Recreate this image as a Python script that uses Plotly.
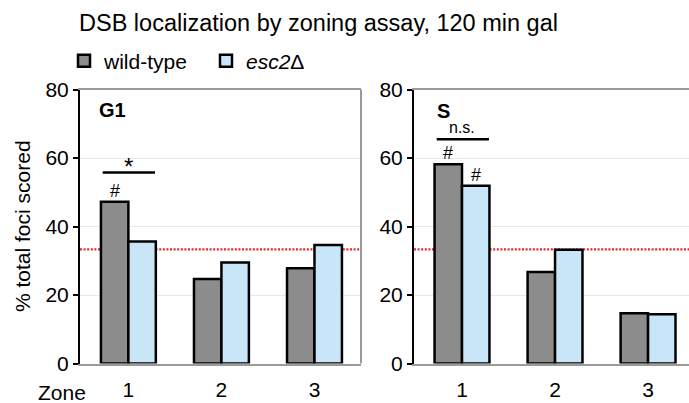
import plotly.graph_objects as go

# ---------------- data ----------------
zones = [1, 2, 3]
zone_labels = ["1", "2", "3"]
g1_wt = [47.2, 24.7, 27.8]
g1_esc2 = [35.6, 29.5, 34.6]
s_wt = [58.2, 26.7, 14.7]
s_esc2 = [51.9, 33.2, 14.4]
expected_pct = 33.3
y_ticks = [0, 20, 40, 60, 80]

series_names = ["wild-type", "<i>esc2</i>Δ"]
series_colors = ["#8c8c8c", "#c8e6f7"]

FONT = "Arial, Liberation Sans, sans-serif"
W, H = 689, 403
BARGAP = 0.41
bar_w = (1 - BARGAP) / 2

fig = go.Figure()

panels = [("x", "y", g1_wt, g1_esc2, True), ("x2", "y2", s_wt, s_esc2, False)]
for xa, ya, wt, esc, show in panels:
    for name, col, vals in zip(series_names, series_colors, [wt, esc]):
        fig.add_trace(go.Bar(
            x=zones, y=vals, name=name, xaxis=xa, yaxis=ya,
            marker=dict(color=col, line=dict(color="black", width=2.5)),
            showlegend=show, legendgroup=name,
        ))

# geometry (pixels -> paper)
y_bot_px, y_top_px = 363.5, 89.5
ydom = [1 - y_bot_px / H, 1 - y_top_px / H]
x1dom = [80 / W, 361 / W]
x2dom = [414 / W, 1.0]

axis_common_x = dict(
    tickmode="array", tickvals=zones, ticktext=zone_labels,
    showline=True, linecolor="#9a9a9a", linewidth=2, mirror=True,
    ticks="", showgrid=False, zeroline=False,
    tickfont=dict(family=FONT, size=21, color="black"),
    ticklabelstandoff=6,
)
axis_common_y = dict(
    range=[0, 80], tickvals=y_ticks, showline=True, linecolor="black",
    linewidth=2, ticks="outside", ticklen=5, tickwidth=2, tickcolor="black",
    showgrid=True, gridcolor="#e8e8e8", gridwidth=1, zeroline=False,
    tickfont=dict(family=FONT, size=21, color="black"),
)

fig.update_layout(
    width=W, height=H,
    margin=dict(l=0, r=0, t=0, b=0, autoexpand=False),
    paper_bgcolor="white", plot_bgcolor="white",
    barmode="group", bargap=BARGAP, bargroupgap=0,
    xaxis=dict(axis_common_x, domain=x1dom, range=[0.48, 3.5], anchor="y"),
    yaxis=dict(axis_common_y, domain=ydom, anchor="x"),
    xaxis2=dict(axis_common_x, domain=x2dom, range=[0.484, 3.44], anchor="y2"),
    yaxis2=dict(axis_common_y, domain=ydom, anchor="x2"),
    showlegend=True,
    legend=dict(orientation="h", x=64 / W, y=1 - 61 / H, xanchor="left", yanchor="middle",
                font=dict(family=FONT, size=21, color="black"),
                entrywidth=97, entrywidthmode="pixels", bgcolor="rgba(0,0,0,0)",
                itemclick=False),
    font=dict(family=FONT, color="black"),
)

shapes = []
for xa, ya in [("x", "y"), ("x2", "y2")]:
    shapes.append(dict(type="line", xref=f"{xa} domain", yref=ya, x0=0, x1=1,
                       y0=expected_pct, y1=expected_pct, layer="below",
                       line=dict(color="#e8262a", width=2.2, dash="2px,1.6px")))
# right frame of the first panel
shapes.append(dict(type="line", xref="x domain", yref="y domain", x0=1, x1=1, y0=0, y1=1,
                   line=dict(color="#9a9a9a", width=2)))
# significance brackets
shapes.append(dict(type="line", xref="x", yref="y", x0=0.724, x1=1.286, y0=55.8, y1=55.8,
                   line=dict(color="black", width=2.5)))
shapes.append(dict(type="line", xref="x2", yref="y2", x0=0.728, x1=1.29, y0=65.5, y1=65.5,
                   line=dict(color="black", width=2.5)))
fig.update_layout(shapes=shapes)

ann = []
ann.append(dict(text="DSB localization by zoning assay, 120 min gal", xref="paper", yref="paper",
                x=77 / W, y=1 - 23 / H, xanchor="left", yanchor="middle", showarrow=False,
                font=dict(family=FONT, size=23.5, color="black")))
ann.append(dict(text="% total foci scored", xref="paper", yref="paper", textangle=-90,
                x=22.5 / W, y=1 - 226.5 / H, xanchor="center", yanchor="middle", showarrow=False,
                font=dict(family=FONT, size=21, color="black")))
ann.append(dict(text="Zone", xref="paper", yref="paper", x=62 / W, y=1 - 392 / H,
                xanchor="center", yanchor="middle", showarrow=False,
                font=dict(family=FONT, size=21, color="black")))
ann.append(dict(text="<b>G1</b>", xref="x domain", yref="y domain", x=0.06, y=0.925,
                xanchor="left", yanchor="middle", showarrow=False,
                font=dict(family=FONT, size=20, color="black")))
ann.append(dict(text="<b>S</b>", xref="x2 domain", yref="y2 domain", x=0.076, y=0.921,
                xanchor="left", yanchor="middle", showarrow=False,
                font=dict(family=FONT, size=20, color="black")))
ann.append(dict(text="*", xref="x", yref="y", x=1.0, y=57.5, xanchor="center", yanchor="middle",
                showarrow=False, font=dict(family=FONT, size=24, color="black")))
ann.append(dict(text="n.s.", xref="x2", yref="y2", x=1.0, y=68.8, xanchor="center", yanchor="middle",
                showarrow=False, font=dict(family=FONT, size=16, color="black")))
# '#' marks above selected bars
hash_marks = [("x", "y", zones[0] - bar_w / 2, g1_wt[0]),
              ("x2", "y2", zones[0] - bar_w / 2, s_wt[0]),
              ("x2", "y2", zones[0] + bar_w / 2, s_esc2[0])]
for xa, ya, xv, yv in hash_marks:
    ann.append(dict(text="#", xref=xa, yref=ya, x=xv, y=yv, yshift=11, xanchor="center",
                    yanchor="middle", showarrow=False,
                    font=dict(family=FONT, size=18, color="black")))
fig.update_layout(annotations=ann)

fig.write_html("out.html")
